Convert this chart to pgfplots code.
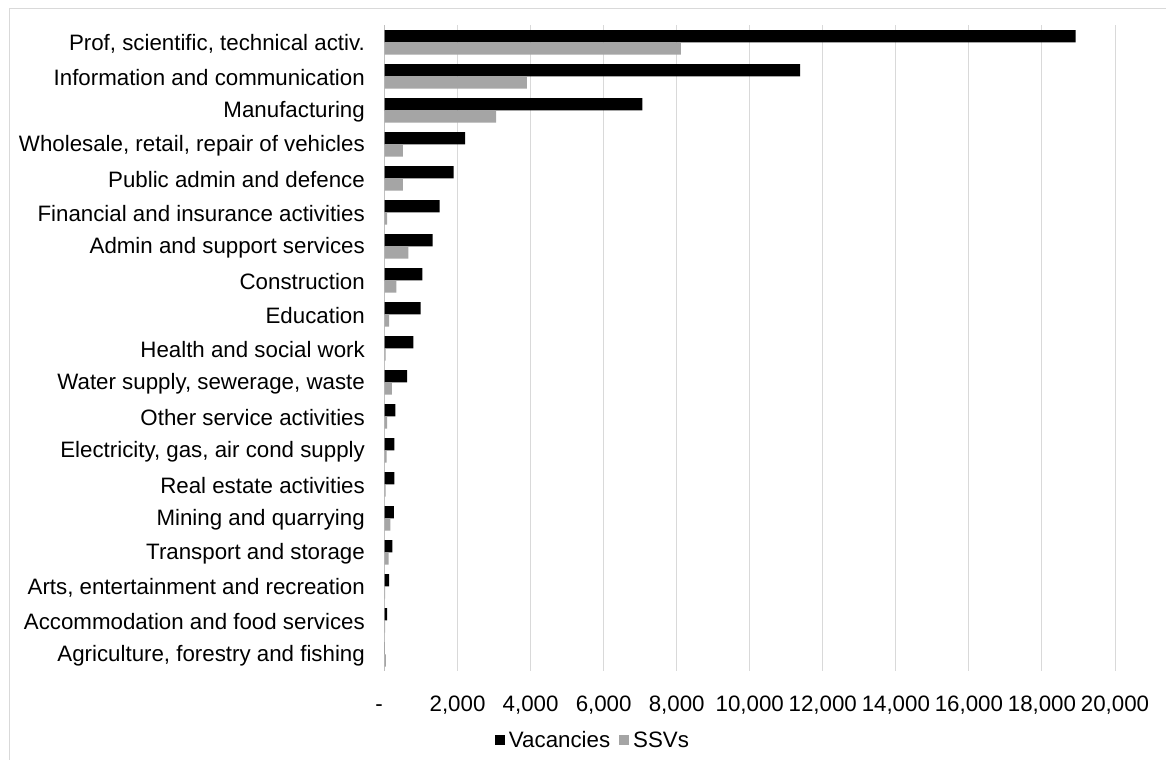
\documentclass[border=0pt]{standalone}
\usepackage{pgfplots}
\pgfplotsset{compat=1.18}
\usepackage{fontspec}
\setmainfont{Liberation Sans}
\definecolor{ssv}{HTML}{A5A5A5}
\definecolor{gridc}{HTML}{D9D9D9}
\definecolor{axisc}{HTML}{BFBFBF}
\definecolor{framec}{HTML}{D9D9D9}
\newcommand{\cf}{\fontsize{22.3bp}{26bp}\selectfont}
\begin{document}
\begin{tikzpicture}
\draw[framec, line width=1bp] (9bp,-20bp) rectangle (1190bp,751bp);
\begin{axis}[
  at={(384.5bp,88.7bp)}, anchor=south west,
  width=730.5bp, height=646bp, scale only axis,
  xbar, bar width=12.3bp,
  xmin=0, xmax=20000,
  ymin=-0.5, ymax=18.5, y dir=reverse,
  scaled x ticks=false,
  axis line style={draw=none},
  major tick length=0pt,
  xmajorgrids, grid style={gridc, line width=1bp},
  xtick={2000,4000,...,20000},
  xticklabels={2{,}000,4{,}000,6{,}000,8{,}000,10{,}000,12{,}000,14{,}000,16{,}000,18{,}000,20{,}000},
  extra x ticks={0},
  extra x tick labels={-},
  extra x tick style={grid style={axisc, line width=1.3bp}, xticklabel style={xshift=-5.5bp}},
  /pgf/number format/assume math mode=true,
  xticklabel style={font=\cf, anchor=base, yshift=-39.7bp, inner sep=0pt},
  ytick={0,...,18},
  yticklabels={{Prof, scientific, technical activ.},{Information and communication},{Manufacturing},{Wholesale, retail, repair of vehicles},{Public admin and defence},{Financial and insurance activities},{Admin and support services},{Construction},{Education},{Health and social work},{Water supply, sewerage, waste},{Other service activities},{Electricity, gas, air cond supply},{Real estate activities},{Mining and quarrying},{Transport and storage},{Arts, entertainment and recreation},{Accommodation and food services},{Agriculture, forestry and fishing}},
  yticklabel style={font=\cf, anchor=east, inner sep=0pt, xshift=-19.5bp, yshift=-1.5bp},
  legend columns=2,
  legend style={at={(0.2854,-0.1063)}, anchor=center, draw=none, fill=none, font=\cf,
    /tikz/every even column/.append style={column sep=7bp}},
  legend image code/.code={\fill[#1] (0bp,-5bp) rectangle (10bp,5bp);},
  legend cell align=left,
]
\addplot[fill=black, draw=none, bar shift=6.15bp] coordinates {
(18920,0) (11380,1) (7060,2) (2210,3) (1890,4) (1510,5) (1320,6) (1040,7) (990,8) (790,9)
(620,10) (300,11) (270,12) (270,13) (260,14) (215,15) (125,16) (70,17) (5,18)};
\addlegendentry{\hspace{2bp}Vacancies}
\addplot[fill=ssv, draw=none, bar shift=-6.15bp] coordinates {
(8115,0) (3900,1) (3055,2) (505,3) (500,4) (70,5) (655,6) (325,7) (125,8) (30,9)
(200,10) (70,11) (60,12) (30,13) (160,14) (115,15) (20,16) (20,17) (40,18)};
\addlegendentry{\hspace{2bp}SSVs}
\end{axis}
\pgfresetboundingbox
\path[use as bounding box] (0,0) rectangle (1166bp,760bp);
\end{tikzpicture}
\end{document}
